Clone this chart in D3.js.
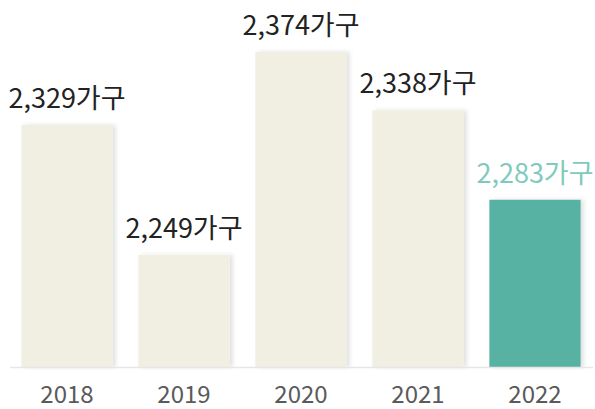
<!DOCTYPE html>
<html><head><meta charset="utf-8">
<script src="https://cdn.jsdelivr.net/npm/d3@7"></script>
<style>html,body{margin:0;padding:0;background:#fff;}svg{display:block;}</style>
</head><body>
<svg id="chart" width="595" height="409"></svg>
<script>
const years = ["2018", "2019", "2020", "2021", "2022"];
const values = [2329, 2249, 2374, 2338, 2283];
const unit = "가구";
const highlight = "2022";

const svg = d3.select("#chart");
const font = "'Noto Sans CJK KR', 'Noto Sans', sans-serif";
const x = d3.scaleBand().domain(years).range([8.5, 593.5]).paddingInner(0.22).paddingOuter(0.11);
const y = d3.scaleLinear().domain([2180, 2374]).range([367, 52]);

const data = years.map((yr, i) => ({year: yr, value: values[i]}));

const defs = svg.append("defs");
const f = defs.append("filter").attr("id", "sh").attr("x", "-10%").attr("y", "-5%").attr("width", "130%").attr("height", "110%");
f.append("feDropShadow").attr("dx", 3).attr("dy", 0).attr("stdDeviation", 2).attr("flood-color", "#000").attr("flood-opacity", 0.12);

svg.append("g").selectAll("rect").data(data).join("rect")
  .attr("x", d => x(d.year))
  .attr("y", d => y(d.value))
  .attr("width", x.bandwidth())
  .attr("height", d => y.range()[0] - y(d.value))
  .attr("fill", d => d.year === highlight ? "#58b2a4" : "#f1efe2")
  .attr("filter", "url(#sh)");

svg.append("line")
  .attr("x1", 10).attr("x2", 593)
  .attr("y1", 367.5).attr("y2", 367.5)
  .attr("stroke", "#e6e6e6").attr("stroke-width", 1.5);

svg.append("g").selectAll("text").data(data).join("text")
  .attr("x", d => x(d.year) + x.bandwidth() / 2)
  .attr("y", d => y(d.value) - 17)
  .attr("text-anchor", "middle")
  .attr("font-family", font)
  .attr("font-size", 27)
  .attr("fill", d => d.year === highlight ? "#7fcabd" : "#222")
  .text(d => d3.format(",")(d.value) + unit);

const xAxis = d3.axisBottom(x).tickSize(0).tickPadding(0);
const gx = svg.append("g").attr("transform", "translate(0,368)").call(xAxis);
gx.select(".domain").remove();
gx.selectAll("text")
  .attr("y", 35)
  .attr("dy", 0)
  .attr("font-family", font)
  .attr("font-size", 24)
  .attr("fill", "#5a5a5a");
</script>
</body></html>
